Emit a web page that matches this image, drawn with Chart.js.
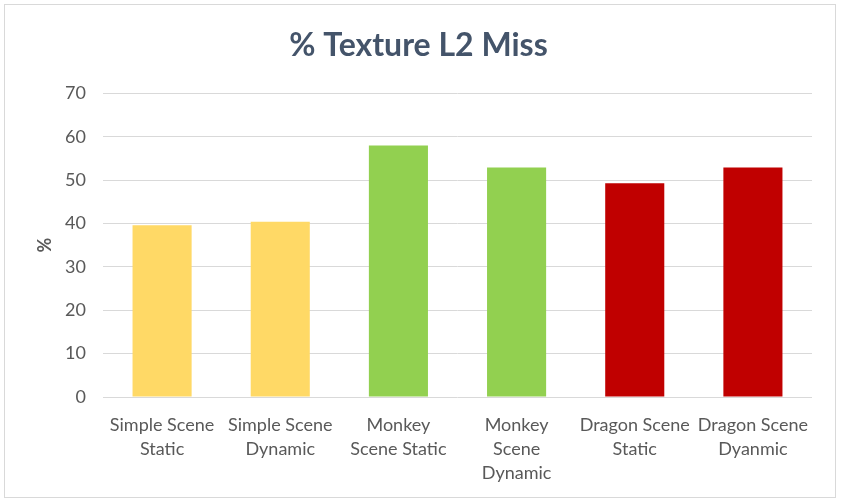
<!DOCTYPE html>
<html>
<head>
<meta charset="utf-8">
<script src="https://cdn.jsdelivr.net/npm/chart.js@4.4.0/dist/chart.umd.min.js"></script>
<style>
  html, body { margin: 0; padding: 0; background: #fff; }
  #wrap {
    position: absolute; left: 4px; top: 4px;
    width: 832px; height: 494px;
    border: 1px solid #d9d9d9; box-sizing: border-box;
  }
</style>
</head>
<body>
<div id="wrap"><canvas id="myChart"></canvas></div>
<script>
// scenes along the x axis
const escenas = [
  ["Simple Scene", "Static"],
  ["Simple Scene", "Dynamic"],
  ["Monkey", "Scene Static"],
  ["Monkey", "Scene", "Dynamic"],
  ["Dragon Scene", "Static"],
  ["Dragon Scene", "Dyanmic"]
];
// % of texture L2 misses per scene
const missL2 = [39.6, 40.4, 58.0, 52.9, 49.3, 52.9];
// one colour per scene group
const coloresBarras = ["#ffd966", "#ffd966", "#92d050", "#92d050", "#c00000", "#c00000"];
const yTicks = [0, 10, 20, 30, 40, 50, 60, 70];

const fuente = "Lato, 'Open Sans', sans-serif";

const data = {
  labels: escenas,
  datasets: [{
    label: "% Texture L2 Miss",
    data: missL2,
    backgroundColor: coloresBarras,
    borderWidth: 0,
    categoryPercentage: 1.0,
    barPercentage: 0.5
  }]
};

const config = {
  type: "bar",
  data: data,
  options: {
    responsive: false,
    animation: false,
    layout: { padding: { left: 20, right: 23, top: 20, bottom: 0 } },
    plugins: {
      legend: { display: false },
      tooltip: { enabled: false },
      title: {
        display: true,
        text: "% Texture L2 Miss",
        color: "#44546a",
        font: { family: fuente, size: 32, weight: "bold" },
        padding: { top: 1, bottom: 29 }
      }
    },
    scales: {
      x: {
        grid: { display: false },
        border: { display: false },
        ticks: {
          color: "#595959",
          font: { family: fuente, size: 18, lineHeight: 1.33 },
          maxRotation: 0,
          autoSkip: false,
          padding: 8
        },
        afterFit: (scale) => { scale.height = 100; }
      },
      y: {
        min: 0,
        max: 70,
        afterBuildTicks: (axis) => { axis.ticks = yTicks.map(v => ({ value: v })); },
        afterFit: (scale) => { scale.width = 78; },
        grid: { color: "#d9d9d9", lineWidth: 1, drawTicks: false },
        border: { display: false },
        ticks: {
          color: "#595959",
          font: { family: fuente, size: 18 },
          padding: 17
        },
        title: {
          display: true,
          text: "%",
          color: "#595959",
          font: { family: fuente, size: 18, weight: "bold" },
          padding: { top: 9, bottom: 0 }
        }
      }
    }
  }
};

const canvas = document.getElementById("myChart");
canvas.width = 830;
canvas.height = 492;
const myChart = new Chart(canvas, config);
</script>
</body>
</html>
